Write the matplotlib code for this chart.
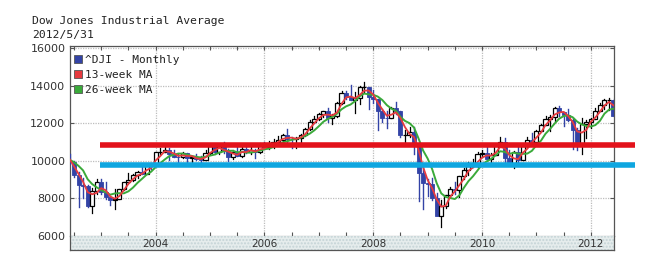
import matplotlib
matplotlib.use('Agg')
import matplotlib.pyplot as plt
import numpy as np
import pandas as pd
from matplotlib.patches import Rectangle
from matplotlib.lines import Line2D
from matplotlib.ticker import MultipleLocator, FixedLocator

# ---------------- data (monthly candles, May 2002 .. May 2012) ----------------
first_year, first_month = 2002, 5
opens = [9946, 9925, 9243, 8737, 8664, 7592, 8397, 8896,
         8342, 8054, 7891, 7992, 8480, 8850, 8985, 9234, 9416, 9275, 9801, 9782,
         10454, 10488, 10584, 10358, 10226, 10188, 10435, 10140, 10174, 10080, 10027, 10428,
         10783, 10490, 10766, 10504, 10193, 10467, 10275, 10641, 10482, 10569, 10440, 10806,
         10718, 10865, 10993, 11109, 11367, 11168, 11150, 11186, 11381, 11679, 12081, 12221,
         12463, 12622, 12269, 12354, 13063, 13628, 13409, 13212, 13358, 13896, 13930, 13372,
         13265, 12650, 12266, 12263, 12820, 12638, 11350, 11378, 11544, 10851, 9325, 8829,
         8776, 8001, 7063, 7609, 8168, 8500, 8447, 9172, 9496, 9712, 9713, 10345,
         10428, 10067, 10325, 10857, 11009, 10137, 9774, 10466, 10015, 10788, 11118, 11006,
         11578, 11892, 12226, 12320, 12811, 12570, 12414, 12143, 11614, 10913, 11955, 12046,
         12218, 12633, 12952, 13212, 13214]
highs = [10343, 9986, 9379, 9077, 8734, 8539, 9043, 9043,
         8869, 8110, 8522, 8506, 8875, 9323, 9284, 9470, 9686, 9837, 9872, 10461,
         10702, 10753, 10690, 10570, 10342, 10479, 10434, 10239, 10341, 10240, 10572, 10868,
         10854, 10842, 10984, 10614, 10579, 10706, 10720, 10719, 10719, 10633, 10939, 10984,
         11047, 11137, 11334, 11430, 11709, 11248, 11268, 11430, 11720, 12163, 12361, 12529,
         12622, 12795, 12500, 13120, 13692, 13692, 14022, 13657, 14000, 14198, 13943, 13779,
         13279, 12767, 12622, 12876, 13136, 12657, 11633, 11808, 11790, 10882, 9654, 9026,
         9088, 8280, 7924, 8185, 8588, 8878, 9172, 9630, 9918, 10119, 10450, 10580,
         10730, 10402, 10902, 11258, 11205, 10594, 10538, 10719, 10860, 11245, 11451, 11625,
         11980, 12391, 12419, 12876, 12929, 12570, 12753, 12284, 11717, 12284, 12188, 12288,
         12813, 13056, 13290, 13338, 13279]
lows = [9809, 9120, 7532, 8043, 7529, 7197, 8215, 8232,
        7945, 7673, 7416, 7945, 8454, 8805, 8913, 9068, 9275, 9373, 9563, 9776,
        10365, 10449, 10048, 10214, 9853, 10131, 9914, 9809, 10043, 9708, 10035, 10362,
        10368, 10371, 10404, 10012, 10094, 10241, 10182, 10397, 10378, 10156, 10406, 10668,
        10626, 10703, 10913, 11011, 10993, 10699, 10683, 10996, 11319, 11643, 11986, 12189,
        12300, 12054, 11939, 12330, 13015, 13266, 13212, 12518, 13004, 13678, 12725, 13089,
        11635, 12070, 11731, 12266, 12480, 11287, 10827, 11261, 10365, 7882, 7449, 8149,
        7909, 7114, 6470, 7481, 8057, 8221, 8087, 9055, 9252, 9676, 9678, 10235,
        10024, 9835, 10321, 10865, 9774, 9757, 9614, 9936, 10014, 10711, 10929, 11007,
        11577, 11883, 11555, 12094, 12381, 11862, 12093, 10604, 10598, 10362, 11231, 11735,
        12217, 12624, 12747, 12710, 12391]
closes = [9925, 9243, 8737, 8664, 7592, 8397, 8896, 8342,
          8054, 7891, 7992, 8480, 8850, 8985, 9234, 9416, 9275, 9801, 9782, 10454,
          10488, 10584, 10358, 10226, 10188, 10435, 10140, 10174, 10080, 10027, 10428, 10783,
          10490, 10766, 10504, 10193, 10467, 10275, 10641, 10482, 10569, 10440, 10806, 10718,
          10865, 10993, 11109, 11367, 11168, 11150, 11186, 11381, 11679, 12081, 12221, 12463,
          12622, 12269, 12354, 13063, 13628, 13409, 13212, 13358, 13896, 13930, 13372, 13265,
          12650, 12266, 12263, 12820, 12638, 11350, 11378, 11544, 10851, 9325, 8829, 8776,
          8001, 7063, 7609, 8168, 8500, 8447, 9172, 9496, 9712, 9713, 10345, 10428,
          10067, 10325, 10857, 11009, 10137, 9774, 10466, 10015, 10788, 11118, 11006, 11578,
          11892, 12226, 12320, 12811, 12570, 12414, 12143, 11614, 10913, 11955, 12046, 12218,
          12633, 12952, 13212, 13214, 12393]
prior_closes = [10021, 9920, 10106, 10404, 9946]   # Dec 2001 .. Apr 2002 (for the averages)

support_levels = [10825, 9750]
support_colors = ['#e3121b', '#0ea6e0']
support_span = [2002.97, 2012.81]

year_labels = [2004, 2006, 2008, 2010, 2012]
y_ticks = [6000, 8000, 10000, 12000, 14000, 16000]

title_lines = ['Dow Jones Industrial Average', '2012/5/31']
legend_labels = ['^DJI - Monthly', '13-week MA', '26-week MA']

# ---------------- derived ----------------
n = len(closes)
xpos = np.array([first_year + (first_month + i) / 12.0 for i in range(n)])
all_closes = pd.Series(prior_closes + closes, dtype=float)
ma13 = all_closes.rolling(3).mean().values[len(prior_closes):]
ma26 = all_closes.rolling(6).mean().values[len(prior_closes):]

BLUE = '#3343a6'
RED_MA = '#e63a3f'
GREEN_MA = '#3aaa3a'
MONO = 'DejaVu Sans Mono'

W, H = 660, 270
fig = plt.figure(figsize=(6.6, 2.7), dpi=100)
L, R, T, B = 69.5, 613.5, 46, 236
ax = fig.add_axes([L / W, 1 - B / H, (R - L) / W, (B - T) / H])
strip = fig.add_axes([L / W, 1 - 250 / H, (R - L) / W, (250 - B) / H], sharex=ax)

x0, x1 = xpos[0], xpos[-1]
ax.set_xlim(x0, x1)
ax.set_ylim(6000, 16100)

# grid
for yv in y_ticks[1:]:
    ax.axhline(yv, color='#bdbdbd', lw=0.9, ls=(0, (1, 1)), zorder=1)
for xv in year_labels:
    ax.axvline(xv, color='#bdbdbd', lw=0.9, ls=(0, (1, 1)), zorder=1)

# candles
bw = 0.9 / 12
for xi, o, h, l, c in zip(xpos, opens, highs, lows, closes):
    if c >= o:
        ax.plot([xi, xi], [l, h], color='black', lw=0.9, zorder=3)
        ax.add_patch(Rectangle((xi - bw / 2, o), bw, max(c - o, 30), facecolor='white',
                               edgecolor='black', lw=0.9, zorder=4))
    else:
        ax.plot([xi, xi], [l, h], color=BLUE, lw=1.0, zorder=3)
        ax.add_patch(Rectangle((xi - bw / 2, c), bw, max(o - c, 30), facecolor=BLUE,
                               edgecolor=BLUE, lw=0.6, zorder=4))

ax.plot(xpos, ma26, color=GREEN_MA, lw=1.4, zorder=5)
ax.plot(xpos, ma13, color=RED_MA, lw=1.3, zorder=6)

# support / resistance bands
for lvl, col in zip(support_levels, support_colors):
    ax.plot(support_span, [lvl, lvl], color=col, lw=4.0, solid_capstyle='butt',
            clip_on=False, zorder=10)

# axes styling
for sp in ax.spines.values():
    sp.set_color('#555555')
    sp.set_linewidth(0.9)
ax.spines['bottom'].set_color('#999999')
ax.xaxis.set_major_locator(MultipleLocator(0.5))
ax.tick_params(axis='x', which='both', direction='in', length=3, top=True, bottom=True,
               labelbottom=False, color='#555555')
ax.yaxis.set_major_locator(FixedLocator(y_ticks))
ax.set_yticklabels([str(v) for v in y_ticks])
ax.tick_params(axis='y', direction='in', length=3, left=True, right=True, color='#555555',
               labelsize=8, pad=3, labelcolor='#333333')

# legend
handles = [Line2D([], [], marker='s', ls='none', markersize=5.5, markerfacecolor=c,
                  markeredgecolor='#555555', markeredgewidth=0.6)
           for c in [BLUE, RED_MA, GREEN_MA]]
leg = ax.legend(handles, legend_labels, loc='upper left', frameon=False,
                bbox_to_anchor=(0.0, 0.975),
                prop={'family': MONO, 'size': 8}, handlelength=0.7, handletextpad=0.3,
                labelspacing=0.42, borderaxespad=0.1, borderpad=0.3)
for t in leg.get_texts():
    t.set_color('#222222')

# bottom label strip
strip.set_ylim(0, 1)
strip.add_patch(Rectangle((x0, 0), x1 - x0, 1, facecolor='#e6eded', edgecolor='#c4d3d6',
                          hatch='.....', lw=0))
strip.set_yticks([])
strip.tick_params(axis='x', which='both', length=0, labelbottom=False)
for sp in strip.spines.values():
    sp.set_color('#555555')
    sp.set_linewidth(0.9)
strip.spines['top'].set_visible(False)
for yr in year_labels:
    strip.text(yr, 0.45, str(yr), ha='center', va='center', fontsize=7.5, color='#333333')

# title
fig.text(32 / W, 1 - 21 / H, title_lines[0], family=MONO, fontsize=8.2, va='center',
         ha='left', color='#222222')
fig.text(32 / W, 1 - 35 / H, title_lines[1], family=MONO, fontsize=8.2, va='center',
         ha='left', color='#222222')

fig.savefig('out.png', dpi=100)
